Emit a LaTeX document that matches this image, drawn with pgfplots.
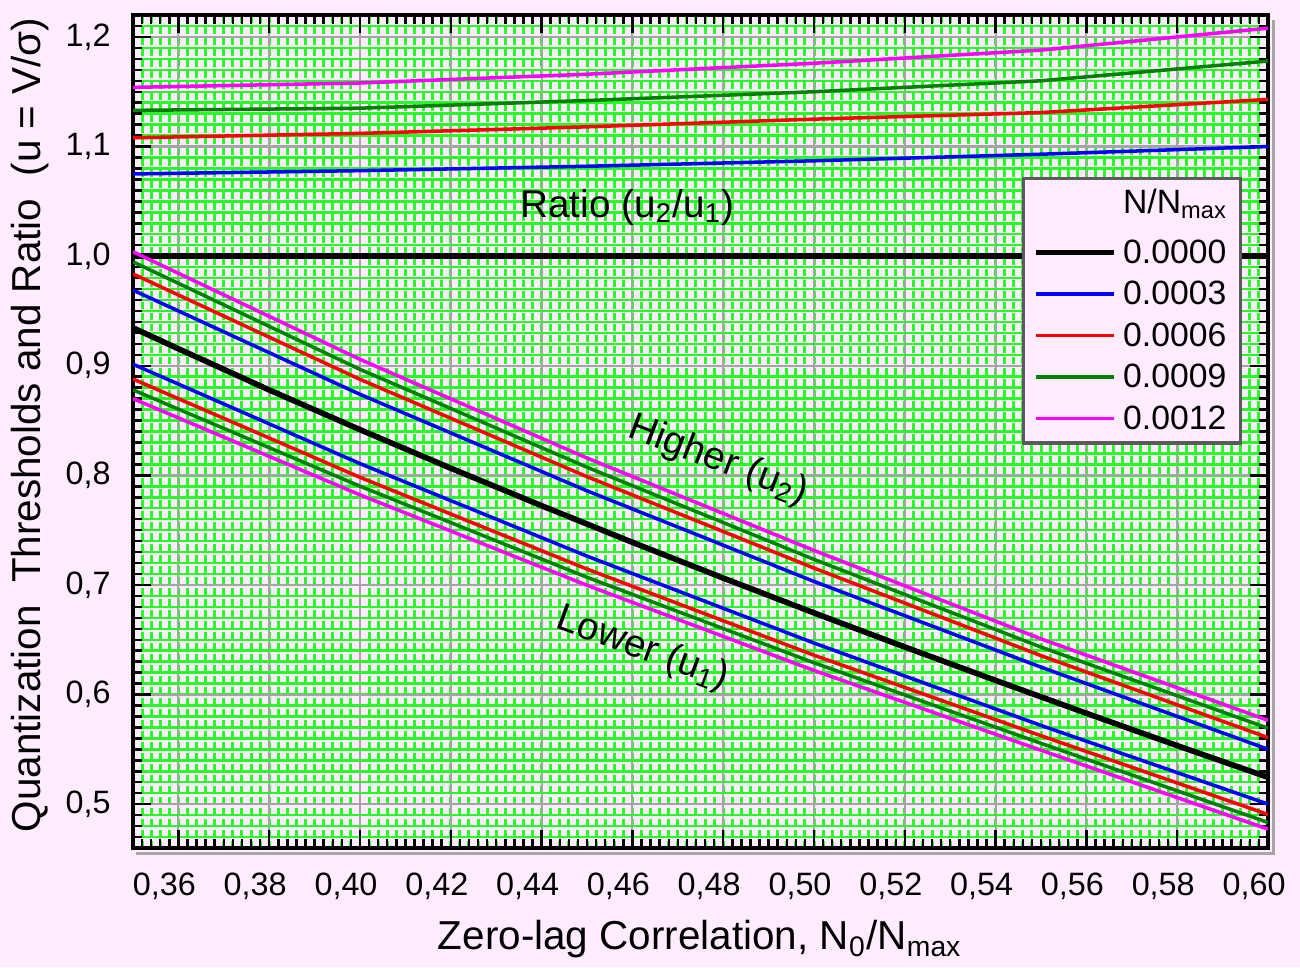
\documentclass[border=0pt]{standalone}
\usepackage{fontspec}
\setmainfont{Liberation Sans}
\usepackage{pgfplots}
\pgfplotsset{compat=1.18}
\definecolor{bgpink}{RGB}{255,236,255}
\definecolor{grgreen}{RGB}{40,250,40}
\definecolor{dkgreen}{RGB}{0,128,0}
\definecolor{mag}{RGB}{255,0,255}
\definecolor{gridgray}{RGB}{165,165,165}
\definecolor{legframe}{RGB}{90,90,90}
\begin{document}
\begin{tikzpicture}
\fill[bgpink] (-13.3mm,-11.9mm) rectangle (116.7mm,84.8mm);
\begin{axis}[
  at={(0,0)}, anchor=south west,
  width=113.5mm, height=83.3mm, scale only axis,
  xmin=0.35, xmax=0.60, ymin=0.46, ymax=1.22,
  xtick={0.36,0.38,0.40,0.42,0.44,0.46,0.48,0.50,0.52,0.54,0.56,0.58,0.60},
  ytick={0.5,0.6,0.7,0.8,0.9,1.0,1.1,1.2},
  minor xtick={0.350,0.352,...,0.601},
  minor ytick={0.46,0.47,...,1.221},
  grid=both,
  major grid style={draw=gridgray, line width=0.6pt},
  minor x grid style={draw=grgreen, line width=0.85pt, dash pattern=on 2pt off 1.13pt},
  minor y grid style={draw=grgreen, line width=0.7pt},
  major tick length=1.8mm, minor tick length=0.9mm,
  tick style={black, line width=0.7pt},
  axis line style={black, line width=1.2pt},
  /pgf/number format/assume math mode=true,
  xticklabel={\pgfmathprintnumber[fixed,fixed zerofill,precision=2,use comma,assume math mode=true]{\tick}},
  yticklabel={\pgfmathprintnumber[fixed,fixed zerofill,precision=1,use comma,assume math mode=true]{\tick}},
  xticklabel style={font=\fontsize{9.2}{10}\selectfont, yshift=-1.2mm, xshift=-1.4mm},
  yticklabel style={font=\fontsize{9.2}{10}\selectfont, xshift=-1mm},
  xlabel={Zero-lag Correlation, N\textsubscript{0}/N\textsubscript{max}},
  xlabel style={font=\fontsize{11.5}{13}\selectfont, at={(axis description cs:0.4996,-0.1224)}, anchor=base},
  ylabel={Quantization\ \ Thresholds and Ratio\ \ (u = V/σ)},
  ylabel style={font=\fontsize{11.5}{13}\selectfont, at={(axis description cs:-0.0907,0.508)}, anchor=center},
  legend style={at={(rel axis cs:0.783,0.806)}, anchor=north west, draw=legframe, line width=1pt,
    fill=bgpink, font=\fontsize{9.6}{11}\selectfont, inner xsep=1mm, inner ysep=0.6mm,
    row sep=0.5mm, column sep=0.3mm,
    nodes={inner sep=0.3mm, text height=2.6mm, text depth=0.45mm}},
  legend cell align=left,
  legend image code/.code={\draw[#1] (0mm,0mm) -- (7.8mm,0mm);},
]
\addlegendimage{empty legend}
\addlegendentry[text depth=1.3mm]{N/N\textsubscript{max}}

% ratio lines
\addplot[black, line width=1.6pt] coordinates {(0.35,1.0) (0.60,1.0)};
\addlegendentry{0.0000}
\addplot[blue, line width=1pt] coordinates {(0.35,1.075) (0.40,1.078) (0.45,1.082) (0.50,1.087) (0.55,1.093) (0.60,1.100)};
\addlegendentry{0.0003}
\addplot[red, line width=1pt] coordinates {(0.35,1.108) (0.40,1.112) (0.45,1.118) (0.50,1.125) (0.55,1.131) (0.60,1.143)};
\addlegendentry{0.0006}
\addplot[dkgreen, line width=1pt] coordinates {(0.35,1.133) (0.40,1.135) (0.45,1.142) (0.50,1.150) (0.55,1.160) (0.60,1.178)};
\addlegendentry{0.0009}
\addplot[mag, line width=1pt] coordinates {(0.35,1.154) (0.40,1.158) (0.45,1.166) (0.50,1.176) (0.55,1.188) (0.60,1.208)};
\addlegendentry{0.0012}

% N = 0 threshold
\addplot[black, line width=1.6pt, forget plot] coordinates {(0.35,0.9346) (0.36,0.9155) (0.38,0.8779) (0.40,0.8417) (0.42,0.8065) (0.44,0.7723) (0.46,0.7389) (0.48,0.7063) (0.50,0.6745) (0.52,0.6434) (0.54,0.6129) (0.56,0.5829) (0.58,0.5534) (0.60,0.5245)};

% higher thresholds u2
\addplot[blue, line width=1pt, forget plot] coordinates {(0.35,0.9690) (0.40,0.8739) (0.45,0.7859) (0.50,0.7032) (0.55,0.6250) (0.60,0.5501)};
\addplot[red, line width=1pt, forget plot] coordinates {(0.35,0.9838) (0.40,0.8876) (0.45,0.7988) (0.50,0.7154) (0.55,0.6355) (0.60,0.5607)};
\addplot[dkgreen, line width=1pt, forget plot] coordinates {(0.35,0.9948) (0.40,0.8967) (0.45,0.8074) (0.50,0.7233) (0.55,0.6433) (0.60,0.5693)};
\addplot[mag, line width=1pt, forget plot] coordinates {(0.35,1.0040) (0.40,0.9058) (0.45,0.8158) (0.50,0.7315) (0.55,0.6508) (0.60,0.5765)};

% lower thresholds u1
\addplot[blue, line width=1pt, forget plot] coordinates {(0.35,0.9014) (0.40,0.8107) (0.45,0.7263) (0.50,0.6470) (0.55,0.5718) (0.60,0.5001)};
\addplot[red, line width=1pt, forget plot] coordinates {(0.35,0.8879) (0.40,0.7982) (0.45,0.7145) (0.50,0.6359) (0.55,0.5624) (0.60,0.4906)};
\addplot[dkgreen, line width=1pt, forget plot] coordinates {(0.35,0.8780) (0.40,0.7901) (0.45,0.7070) (0.50,0.6290) (0.55,0.5555) (0.60,0.4833)};
\addplot[mag, line width=1pt, forget plot] coordinates {(0.35,0.8700) (0.40,0.7822) (0.45,0.6997) (0.50,0.6220) (0.55,0.5492) (0.60,0.4772)};

\node[anchor=base west, font=\fontsize{11}{13}\selectfont] at (axis cs:0.4326,1.0357) {Ratio (u\textsubscript{2}/u\textsubscript{1})};
\node[anchor=base west, rotate=-21, font=\fontsize{11}{13}\selectfont] at (axis cs:0.4562,0.8397) {Higher (u\textsubscript{2})};
\node[anchor=base west, rotate=-20, font=\fontsize{11}{13}\selectfont] at (axis cs:0.4403,0.6648) {Lower (u\textsubscript{1})};
\end{axis}
\draw[gray!70, line width=1pt] (0.3mm,-0.55mm) -- (114.05mm,-0.55mm) -- (114.05mm,82.8mm);
\pgfresetboundingbox
\useasboundingbox (-13.3mm,-11.9mm) rectangle (116.7mm,84.8mm);
\end{tikzpicture}
\end{document}
